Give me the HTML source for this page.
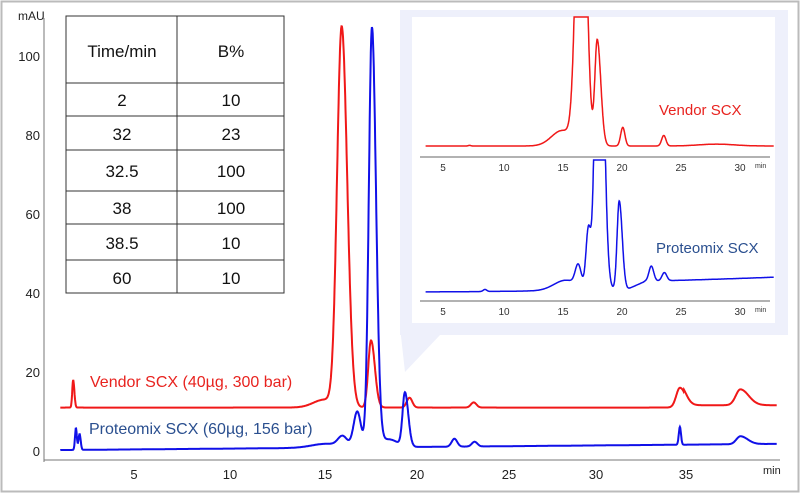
<!DOCTYPE html>
<html><head><meta charset="utf-8"><style>
body{margin:0;background:#fff;width:800px;height:493px;overflow:hidden;font-family:"Liberation Sans",sans-serif}
svg{position:absolute;left:0;top:0}
</style></head><body>
<svg id="s" width="800" height="493" viewBox="0 0 800 493">
<rect x="1.5" y="1.5" width="797" height="490" fill="#fff" stroke="#bbb" stroke-width="2"/>
<polygon points="405,372 440,335 780,335 780,327 400,327" fill="#eef0fb"/>
<rect x="400" y="10" width="388" height="325" fill="#eef0fb"/>
<rect x="412" y="17" width="363" height="306" fill="#fff"/>
<g id="g"></g>
<line x1="44" y1="18" x2="44" y2="462" stroke="#777" stroke-width="1"/>
<line x1="44" y1="460" x2="780" y2="460" stroke="#777" stroke-width="1"/>
<text x="18" y="20" font-size="12" fill="#222">mAU</text>
<g font-size="13" fill="#222" text-anchor="end">
<text x="40" y="61">100</text><text x="40" y="140">80</text><text x="40" y="219">60</text><text x="40" y="298">40</text><text x="40" y="377">20</text><text x="40" y="456">0</text>
</g>
<g font-size="13" fill="#222" text-anchor="middle">
<text x="134" y="479">5</text><text x="230" y="479">10</text><text x="325" y="479">15</text><text x="417" y="479">20</text><text x="509" y="479">25</text><text x="596" y="479">30</text><text x="686" y="479">35</text>
</g>
<text x="763" y="474" font-size="11" fill="#222">min</text>
<g stroke="#333" stroke-width="1" fill="none">
<rect x="66" y="16" width="218" height="277"/>
<line x1="177" y1="16" x2="177" y2="293"/>
<line x1="66" y1="83" x2="284" y2="83"/><line x1="66" y1="116" x2="284" y2="116"/><line x1="66" y1="150" x2="284" y2="150"/><line x1="66" y1="191" x2="284" y2="191"/><line x1="66" y1="224" x2="284" y2="224"/><line x1="66" y1="260" x2="284" y2="260"/>
</g>
<g font-size="17" fill="#111" text-anchor="middle">
<text x="122" y="57">Time/min</text><text x="231" y="57">B%</text>
<text x="122" y="106">2</text><text x="231" y="106">10</text>
<text x="122" y="140">32</text><text x="231" y="140">23</text>
<text x="122" y="177">32.5</text><text x="231" y="177">100</text>
<text x="122" y="214">38</text><text x="231" y="214">100</text>
<text x="122" y="249">38.5</text><text x="231" y="249">10</text>
<text x="122" y="284">60</text><text x="231" y="284">10</text>
</g>
<text x="90" y="387" font-size="16" fill="#e8231f">Vendor SCX  (40µg, 300 bar)</text>
<text x="89" y="434" font-size="16" fill="#2a4f8f">Proteomix SCX (60µg, 156 bar)</text>
<line x1="420" y1="157" x2="770" y2="157" stroke="#666"/>
<line x1="420" y1="301" x2="770" y2="301" stroke="#666"/>
<g font-size="10" fill="#333" text-anchor="middle">
<text x="443" y="171">5</text><text x="504" y="171">10</text><text x="563" y="171">15</text><text x="622" y="171">20</text><text x="681" y="171">25</text><text x="740" y="171">30</text>
<text x="443" y="315">5</text><text x="504" y="315">10</text><text x="563" y="315">15</text><text x="622" y="315">20</text><text x="681" y="315">25</text><text x="740" y="315">30</text>
</g>
<text x="755" y="168" font-size="7" fill="#333">min</text>
<text x="755" y="312" font-size="7" fill="#333">min</text>
<text x="659" y="115" font-size="15" fill="#e8231f">Vendor SCX</text>
<text x="656" y="253" font-size="15" fill="#2a4f8f">Proteomix  SCX</text>
</svg>
<script>
function g(t,c,s,h){return h*Math.exp(-0.5*Math.pow((t-c)/s,2));}
function tailg(t,c,s,h,tail){var sig=t>c?s*tail:s;return g(t,c,sig,h);}
var red=function(t){return 11+tailg(t,1.7,0.05,7,1.3)+tailg(t,16.35,0.25,96,1.2)+g(t,15.4,0.6,2)+tailg(t,17.95,0.15,17,1.4)+g(t,20.05,0.15,2.5)+g(t,23.55,0.15,1.3)+tailg(t,34.8,0.2,5,1.6)+tailg(t,38.1,0.25,4,1.8)+(t>35?0.6:0);};
var blue=function(t){return 0.2+0.04*t+g(t,1.85,0.05,5.5)+g(t,2.05,0.06,4)+g(t,16.4,0.25,2.5)+g(t,15.5,0.8,1)+tailg(t,17.2,0.2,9,1)+tailg(t,18.0,0.17,106,1.3)+g(t,18.9,0.5,2)+tailg(t,19.8,0.13,13.5,1.4)+g(t,22.5,0.15,2)+g(t,23.6,0.15,1.2)+g(t,34.8,0.06,4.5)+tailg(t,38.1,0.22,2,1.8);};
var ir=function(t){return 0.1*g(t,7.2,0.1,1)+tailg(t,16.6,0.4,60,1.0)+g(t,15.0,0.9,2.5)+tailg(t,17.95,0.2,17,1.5)+g(t,20.1,0.18,3)+g(t,23.55,0.18,1.7)+g(t,28,1.5,0.3);};
var ib=function(t){return 0.01*t*t/10+g(t,16.35,0.25,3)+g(t,15.3,1.0,1.5)+tailg(t,17.2,0.2,8.5,1)+tailg(t,18.1,0.3,60,1.2)+tailg(t,19.8,0.18,13,1.4)+g(t,22.5,0.2,2.2)+g(t,23.6,0.2,1.2)+g(t,8.5,0.15,0.3)+(t>20.5?1.1:0.0)*Math.min(1,(t-20.5)/1.5);};
function path(f,x0,px,y0,py,t0,t1,clip){var d="";for(var t=t0;t<=t1;t+=0.02){var x=x0+t*px,y=y0-f(t)*py;if(clip!==undefined&&y<clip)y=clip;d+=(d?"L":"M")+x.toFixed(1)+","+y.toFixed(1);}return d;}
var G=document.getElementById("g"),ns="http://www.w3.org/2000/svg";
function add(d,c,w){var p=document.createElementNS(ns,"path");p.setAttribute("d",d);p.setAttribute("fill","none");p.setAttribute("stroke",c);p.setAttribute("stroke-width",w);G.appendChild(p);}
add(path(red,42,18.33,451,3.95,1.0,40.1),"#f01818",2);
add(path(blue,42,18.33,451,3.95,1.0,40.1),"#1010e8",2);
add(path(ir,384,11.88,146,6.2,3.5,32.8,17),"#f01818",1.5);
add(path(ib,384,11.88,292,6.8,3.5,32.8,160),"#1010e8",1.5);
</script>
</body></html>
